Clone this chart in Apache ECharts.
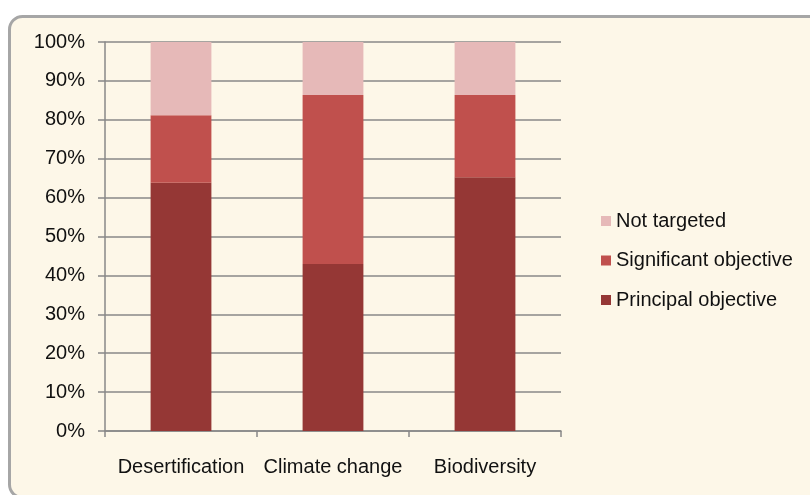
<!DOCTYPE html>
<html><head><meta charset="utf-8">
<script src="https://cdn.jsdelivr.net/npm/echarts@6/dist/echarts.min.js"></script>
<style>html,body{margin:0;padding:0;background:#fff}#c{width:810px;height:495px}</style>
</head><body><div id="c"></div>
<script>
const categories = ['Desertification', 'Climate change', 'Biodiversity'];
const principal = [63.8, 42.9, 65.2];
const significant = [17.4, 43.5, 21.2];
const notTargeted = [18.8, 13.6, 13.6];
const yTicks = [0, 10, 20, 30, 40, 50, 60, 70, 80, 90, 100];

const FONT = 'Liberation Sans';
const chart = echarts.init(document.getElementById('c'), null, {renderer: 'canvas'});
chart.setOption({
  animation: false,
  backgroundColor: '#ffffff',
  graphic: [{
    type: 'rect', z: -10, silent: true,
    shape: {x: 9.5, y: 16.5, width: 815, height: 481, r: 13},
    style: {fill: '#FDF7E8', stroke: '#A6A6A6', lineWidth: 3}
  }],
  grid: {left: 105, right: 249, top: 42, bottom: 64, containLabel: false},
  legend: {
    orient: 'vertical', left: 596, top: 206, itemWidth: 10, itemHeight: 10, itemGap: 19.5,
    icon: 'rect',
    textStyle: {fontFamily: FONT, fontSize: 20, color: '#111'},
    data: ['Not targeted', 'Significant objective', 'Principal objective']
  },
  xAxis: {
    type: 'category', data: categories,
    axisLine: {lineStyle: {color: '#888888', width: 1.5}},
    axisTick: {show: true, length: 6, alignWithLabel: false, lineStyle: {color: '#888888', width: 1.5}},
    axisLabel: {fontFamily: FONT, fontSize: 20, color: '#111', margin: 26, interval: 0}
  },
  yAxis: {
    type: 'value', min: 0, max: 100, interval: 10,
    axisLine: {show: true, lineStyle: {color: '#888888', width: 1.5}},
    axisTick: {show: true, length: 7, lineStyle: {color: '#888888', width: 1.5}},
    splitLine: {lineStyle: {color: '#888888', width: 1.5}},
    axisLabel: {fontFamily: FONT, fontSize: 20, color: '#111', margin: 20,
      customValues: yTicks, formatter: v => v + '%'}
  },
  series: [
    {name: 'Principal objective', type: 'bar', stack: 's', data: principal, barWidth: '40%',
     itemStyle: {color: '#953735'}},
    {name: 'Significant objective', type: 'bar', stack: 's', data: significant, barWidth: '40%',
     itemStyle: {color: '#C0504D'}},
    {name: 'Not targeted', type: 'bar', stack: 's', data: notTargeted, barWidth: '40%',
     itemStyle: {color: '#E6B9B8'}}
  ]
});
</script></body></html>
